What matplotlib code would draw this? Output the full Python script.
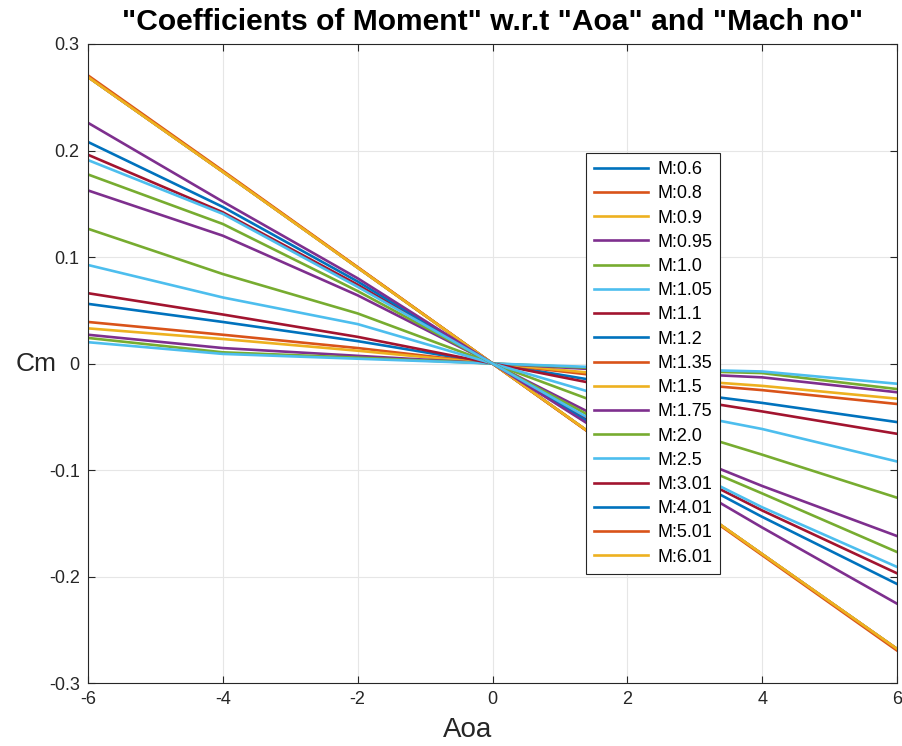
import matplotlib
matplotlib.use("Agg")
import matplotlib.pyplot as plt

plt.rcParams['font.family'] = ['Liberation Sans', 'DejaVu Sans']
plt.rcParams['axes.unicode_minus'] = False

aoa = [-6, -4, -2, 0, 2, 4, 6]

mach_labels = ["M:0.6", "M:0.8", "M:0.9", "M:0.95", "M:1.0", "M:1.05", "M:1.1",
               "M:1.2", "M:1.35", "M:1.5", "M:1.75", "M:2.0", "M:2.5", "M:3.01",
               "M:4.01", "M:5.01", "M:6.01"]

# Cm values at each Aoa, one list per plotted line (legend order first)
cm_m0_6 = [0.056, 0.039, 0.021, 0.0, -0.021, -0.037, -0.055]
cm_m0_8 = [0.039, 0.027, 0.0145, 0.0, -0.0145, -0.025, -0.038]
cm_m0_9 = [0.033, 0.023, 0.012, 0.0, -0.012, -0.021, -0.033]
cm_m0_95 = [0.027, 0.0145, 0.0072, 0.0, -0.0072, -0.013, -0.027]
cm_m1_0 = [0.024, 0.0105, 0.0055, 0.0, -0.0055, -0.009, -0.024]
cm_m1_05 = [0.020, 0.009, 0.0045, 0.0, -0.0045, -0.0075, -0.019]
cm_m1_1 = [0.066, 0.046, 0.025, 0.0, -0.025, -0.045, -0.066]
cm_m1_2 = [0.269, 0.180, 0.090, 0.0, -0.090, -0.179, -0.268]
cm_m1_35 = [0.269, 0.180, 0.090, 0.0, -0.090, -0.179, -0.268]
cm_m1_5 = [0.269, 0.180, 0.090, 0.0, -0.090, -0.179, -0.268]
cm_m1_75 = [0.1625, 0.120, 0.064, 0.0, -0.064, -0.115, -0.162]
cm_m2_0 = [0.1265, 0.084, 0.047, 0.0, -0.047, -0.0856, -0.126]
cm_m2_5 = [0.0925, 0.062, 0.037, 0.0, -0.037, -0.0615, -0.092]
cm_m3_01 = [0.196, 0.142, 0.074, 0.0, -0.074, -0.138, -0.197]
cm_m4_01 = [0.208, 0.147, 0.077, 0.0, -0.077, -0.144, -0.207]
cm_m5_01 = [0.2705, 0.181, 0.0905, 0.0, -0.0905, -0.180, -0.2695]
cm_m6_01 = [0.269, 0.180, 0.090, 0.0, -0.090, -0.179, -0.268]
# further lines drawn in the figure without legend entries
cm_extra_1 = [0.226, 0.152, 0.080, 0.0, -0.080, -0.154, -0.2255]
cm_extra_2 = [0.1775, 0.131, 0.068, 0.0, -0.068, -0.122, -0.177]
cm_extra_3 = [0.191, 0.1405, 0.072, 0.0, -0.072, -0.135, -0.191]

labeled = [cm_m0_6, cm_m0_8, cm_m0_9, cm_m0_95, cm_m1_0, cm_m1_05, cm_m1_1,
           cm_m1_2, cm_m1_35, cm_m1_5, cm_m1_75, cm_m2_0, cm_m2_5, cm_m3_01,
           cm_m4_01, cm_m5_01, cm_m6_01]
unlabeled = [cm_extra_1, cm_extra_2, cm_extra_3]

matlab_colors = [(0, 0.447, 0.741), (0.850, 0.325, 0.098), (0.929, 0.694, 0.125),
                 (0.494, 0.184, 0.556), (0.466, 0.674, 0.188), (0.301, 0.745, 0.933),
                 (0.635, 0.078, 0.184)]

fig = plt.figure(figsize=(9.03, 7.46), dpi=100)
ax = fig.add_axes([88/903, 1 - 683/746, (897-88)/903, (683-44)/746])

i = 0
for lab, vals in zip(mach_labels, labeled):
    ax.plot(aoa, vals, color=matlab_colors[i % 7], lw=1.9, label=lab)
    i += 1
for vals in unlabeled:
    ax.plot(aoa, vals, color=matlab_colors[i % 7], lw=1.9, label='_nolegend_')
    i += 1

ax.set_xlim(-6, 6)
ax.set_ylim(-0.3, 0.3)
ax.set_xticks([-6, -4, -2, 0, 2, 4, 6])
ax.set_yticks([-0.3, -0.2, -0.1, 0, 0.1, 0.2, 0.3])
ax.set_yticklabels(['-0.3', '-0.2', '-0.1', '0', '0.1', '0.2', '0.3'])
ax.grid(True, color='#e6e6e6', lw=0.8)
ax.set_axisbelow(True)
ax.tick_params(direction='in', length=5, labelsize=13, color='#262626',
               top=True, right=True, labelcolor='#262626', pad=6)
for s in ax.spines.values():
    s.set_color('#262626')
    s.set_linewidth(0.8)

ax.set_xlabel('Aoa', fontsize=20, color='#262626')
ax.xaxis.set_label_coords((468-88)/809, -0.053)
ax.set_ylabel('Cm', fontsize=19, color='#262626', rotation=0, va='center', ha='center')
ax.yaxis.set_label_coords(-(88-36)/809, 0.5)
ax.set_title('"Coefficients of Moment" w.r.t "Aoa" and "Mach no"',
             fontsize=21.6, fontweight='bold', pad=10)

leg = ax.legend(loc='upper left', bbox_to_anchor=((586-88)/809, (683-153)/639),
                fontsize=13, frameon=True, fancybox=False, edgecolor='#262626',
                framealpha=1.0, facecolor='white',
                handlelength=3.0, labelspacing=0.40, borderpad=0.45,
                handletextpad=0.5, borderaxespad=0)
leg.get_frame().set_linewidth(0.8)
for line in leg.get_lines():
    line.set_linewidth(1.9)

fig.savefig('out.png', dpi=100)
